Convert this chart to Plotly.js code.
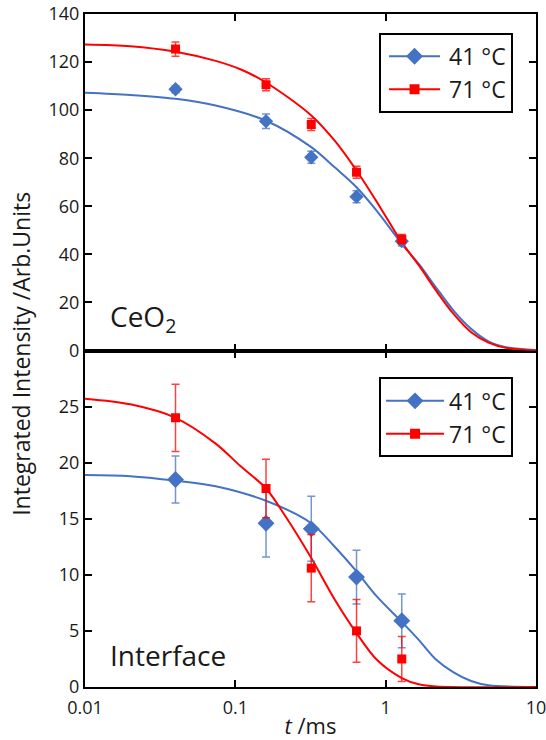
<!DOCTYPE html>
<html>
<head>
<meta charset="utf-8">
<script src="https://cdn.plot.ly/plotly-3.0.1.min.js"></script>
<style>html,body{margin:0;padding:0;background:#fff;}#chart{width:546px;height:740px;}</style>
</head>
<body>
<div id="chart"></div>
<script>
// ---- data ----
var tData = [0.04, 0.16, 0.32, 0.64, 1.28];

var ceo2_41 = [108.7, 95.4, 80.4, 64.0, 45.5];
var ceo2_41_err = [1.5, 3.0, 2.5, 2.5, 2.0];
var ceo2_71 = [125.4, 110.6, 94.0, 74.2, 46.3];
var ceo2_71_err = [3.0, 2.5, 2.5, 2.5, 2.0];

var int_41 = [18.5, 14.6, 14.1, 9.8, 5.9];
var int_41_err = [2.1, 3.0, 2.9, 2.4, 2.4];
var int_71 = [24.0, 17.7, 10.6, 5.0, 2.5];
var int_71_err = [3.0, 2.6, 3.0, 2.8, 2.0];

// fitted curves
var ceo2_71_fitT = [0.01, 0.02, 0.04, 0.074, 0.108, 0.16, 0.32, 0.458, 0.64, 0.87, 1.28, 1.66, 2.16, 2.83, 3.7, 4.83, 6.3, 10];
var ceo2_71_fitY = [127.3, 126.6, 124.3, 120.5, 117.0, 111.5, 97.8, 87.3, 74.9, 62.0, 45.0, 35.5, 25.0, 15.2, 7.6, 3.3, 1.1, 0];
var ceo2_41_fitT = [0.01, 0.02, 0.04, 0.074, 0.16, 0.32, 0.458, 0.64, 0.87, 1.28, 1.66, 2.16, 2.83, 3.7, 4.83, 6.3, 10];
var ceo2_41_fitY = [107.2, 106.3, 104.7, 101.9, 95.6, 84.6, 76.2, 67.9, 58.2, 44.4, 36.0, 26.3, 16.6, 9.0, 3.8, 1.4, 0.2];

var int_71_fitT = [0.01, 0.02, 0.04, 0.074, 0.108, 0.16, 0.216, 0.32, 0.458, 0.64, 0.87, 1.28, 1.66, 2.16, 10];
var int_71_fitY = [25.7, 25.2, 24.0, 21.7, 19.7, 17.7, 15.2, 11.5, 7.8, 4.8, 2.45, 0.8, 0.24, 0.05, 0];
var int_41_fitT = [0.01, 0.02, 0.04, 0.074, 0.16, 0.32, 0.458, 0.64, 0.87, 1.28, 1.66, 2.16, 2.83, 3.7, 4.83, 10];
var int_41_fitY = [18.9, 18.8, 18.4, 17.9, 16.6, 14.6, 12.5, 10.3, 8.1, 5.8, 4.2, 2.45, 1.3, 0.53, 0.15, 0];

var seriesNames = ['41 \u00B0C', '71 \u00B0C'];
var xTickVals = [0.01, 0.1, 1, 10];
var xTickText = ['0.01', '0.1', '1', '10'];
var yTopTicks = [0, 20, 40, 60, 80, 100, 120, 140];
var yBotTicks = [0, 5, 10, 15, 20, 25];

// ---- styles ----
var BLUE = '#4472C4', RED = '#FF0000';
var BLUE_E = 'rgba(68,114,196,0.75)', RED_E = 'rgba(255,0,0,0.75)';
var FONT = 'Open Sans, Noto Sans, sans-serif';
var TXT = '#1a1a1a';

function fit(t, y, color, xa, ya) {
  return {x: t, y: y, xaxis: xa, yaxis: ya, mode: 'lines', type: 'scatter',
    line: {color: color, width: 2, shape: 'spline', smoothing: 0.9}, showlegend: false, hoverinfo: 'skip'};
}
function pts(y, err, color, ecolor, sym, size, xa, ya) {
  return {x: tData, y: y, xaxis: xa, yaxis: ya, mode: 'markers', type: 'scatter',
    marker: {color: color, symbol: sym, size: size},
    error_y: {type: 'data', array: err, visible: true, color: ecolor, thickness: 1.5, width: 4},
    showlegend: false};
}
function leg(name, color, sym, size, legendId, xa, ya) {
  return {x: [null], y: [null], xaxis: xa, yaxis: ya, mode: 'lines+markers', type: 'scatter', name: name,
    line: {color: color, width: 2}, marker: {color: color, symbol: sym, size: size},
    legend: legendId, showlegend: true};
}

var traces = [
  fit(ceo2_41_fitT, ceo2_41_fitY, BLUE, 'x2', 'y2'),
  fit(ceo2_71_fitT, ceo2_71_fitY, RED, 'x2', 'y2'),
  pts(ceo2_41, ceo2_41_err, BLUE, BLUE_E, 'diamond', 11, 'x2', 'y2'),
  pts(ceo2_71, ceo2_71_err, RED, RED_E, 'square', 9, 'x2', 'y2'),
  leg(seriesNames[0], BLUE, 'diamond', 13, 'legend', 'x2', 'y2'),
  leg(seriesNames[1], RED, 'square', 10, 'legend', 'x2', 'y2'),

  fit(int_41_fitT, int_41_fitY, BLUE, 'x', 'y'),
  fit(int_71_fitT, int_71_fitY, RED, 'x', 'y'),
  pts(int_41, int_41_err, BLUE, BLUE_E, 'diamond', 13, 'x', 'y'),
  pts(int_71, int_71_err, RED, RED_E, 'square', 9, 'x', 'y'),
  leg(seriesNames[0], BLUE, 'diamond', 13, 'legend2', 'x', 'y'),
  leg(seriesNames[1], RED, 'square', 10, 'legend2', 'x', 'y')
];

var axBase = {showline: true, linecolor: '#000', linewidth: 2, mirror: 'ticks',
  ticks: 'inside', ticklen: 7, tickwidth: 2, tickcolor: '#000',
  showgrid: false, zeroline: false, ticklabeloverflow: 'allow',
  tickfont: {family: FONT, size: 18, color: TXT}};

var legBase = {xanchor: 'left', yanchor: 'top', bgcolor: '#fff',
  bordercolor: '#000', borderwidth: 2, font: {family: FONT, size: 23, color: TXT},
  itemwidth: 58, tracegroupgap: 0};

var layout = {
  width: 546, height: 740,
  margin: {l: 85, r: 10, t: 14, b: 53},
  paper_bgcolor: '#fff', plot_bgcolor: '#fff',
  font: {family: FONT, color: TXT},
  xaxis: Object.assign({}, axBase, {type: 'log', range: [-2, 1], anchor: 'y',
    tickmode: 'array', tickvals: xTickVals, ticktext: xTickText, ticklabelstandoff: 3,
    title: {text: '<i>t</i> /ms', font: {family: FONT, size: 22, color: TXT}, standoff: 4}}),
  xaxis2: Object.assign({}, axBase, {type: 'log', range: [-2, 1], anchor: 'y2', matches: 'x',
    tickmode: 'array', tickvals: xTickVals, showticklabels: false}),
  yaxis: Object.assign({}, axBase, {domain: [0, 0.5], range: [0, 30], anchor: 'x',
    tickmode: 'array', tickvals: yBotTicks}),
  yaxis2: Object.assign({}, axBase, {domain: [0.5, 1], range: [0, 140], anchor: 'x2',
    tickmode: 'array', tickvals: yTopTicks}),
  legend: Object.assign({}, legBase, {x: 0.652, y: 0.972}),
  legend2: Object.assign({}, legBase, {x: 0.652, y: 0.460}),
  annotations: [
    {text: 'CeO<sub>2</sub>', xref: 'paper', yref: 'paper', x: 0.05, y: 0.548,
      xanchor: 'left', yanchor: 'middle', showarrow: false,
      font: {family: FONT, size: 28, color: TXT}},
    {text: 'Interface', xref: 'paper', yref: 'paper', x: 0.05, y: 0.048,
      xanchor: 'left', yanchor: 'middle', showarrow: false,
      font: {family: FONT, size: 28, color: TXT}},
    {text: 'Integrated Intensity /Arb.Units', xref: 'paper', yref: 'paper',
      x: -0.142, y: 0.495, xanchor: 'center', yanchor: 'middle', textangle: -90,
      showarrow: false, font: {family: FONT, size: 23, color: TXT}}
  ]
};

Plotly.newPlot('chart', traces, layout, {displayModeBar: false, staticPlot: true}).then(function () {
  // lengthen the legend key lines to match the reference key width
  document.querySelectorAll('.legend .legendlines path').forEach(function (p) {
    p.setAttribute('d', 'M8,0h51');
  });
  document.querySelectorAll('.legend .legendpoints path').forEach(function (p) {
    p.setAttribute('transform', 'translate(33.5,0)');
  });
});
</script>
</body>
</html>
